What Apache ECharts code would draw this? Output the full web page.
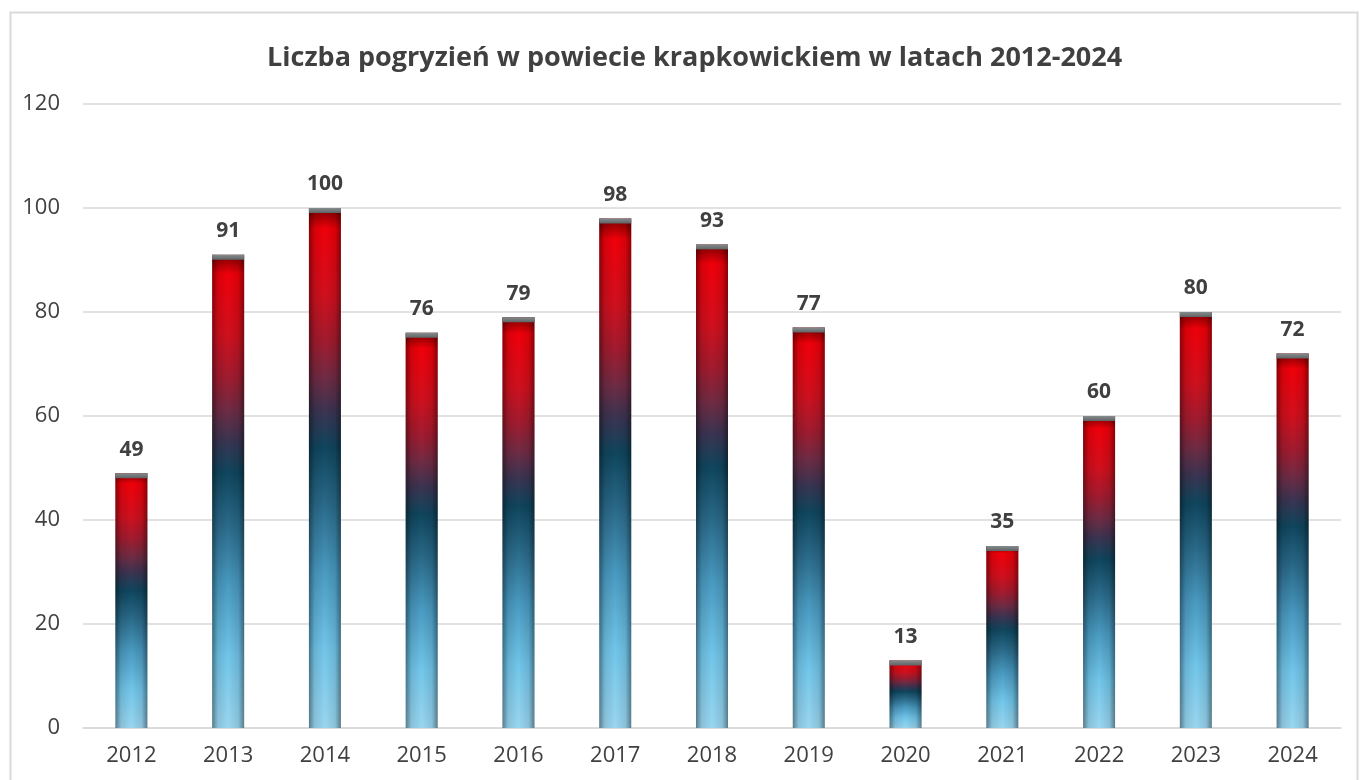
<!DOCTYPE html>
<html><head><meta charset="utf-8">
<script src="https://cdn.jsdelivr.net/npm/echarts@6/dist/echarts.min.js"></script>
<style>html,body{margin:0;padding:0;background:#fff}#c{width:1362px;height:780px}</style>
</head><body><div id="c"></div>
<script>
const categories = ['2012','2013','2014','2015','2016','2017','2018','2019','2020','2021','2022','2023','2024'];
const values = [49,91,100,76,79,98,93,77,13,35,60,80,72];
const yTicks = [0,20,40,60,80,100,120];
const titleText = 'Liczba pogryzień w powiecie krapkowickiem w latach 2012-2024';

const chart = echarts.init(document.getElementById('c'));
const font = '"Open Sans", "Noto Sans", sans-serif';
const vGrad = new echarts.graphic.LinearGradient(0,0,0,1,[
  {offset:0, color:'#7a0000'},
  {offset:0.04, color:'#f0000a'},
  {offset:0.17, color:'#d0101e'},
  {offset:0.26, color:'#a01c30'},
  {offset:0.33, color:'#6e2c45'},
  {offset:0.39, color:'#3c3452'},
  {offset:0.46, color:'#0f465e'},
  {offset:0.57, color:'#2a6a8a'},
  {offset:0.7, color:'#4a9bc2'},
  {offset:0.85, color:'#72c6ea'},
  {offset:1, color:'#9ad6f0'}
]);
const hGrad = new echarts.graphic.LinearGradient(0,0,1,0,[
  {offset:0, color:'rgba(0,0,0,0.42)'},
  {offset:0.18, color:'rgba(0,0,0,0.1)'},
  {offset:0.5, color:'rgba(0,0,0,0)'},
  {offset:0.82, color:'rgba(0,0,0,0.1)'},
  {offset:1, color:'rgba(0,0,0,0.42)'}
]);
const capGrad = new echarts.graphic.LinearGradient(0,0,0,1,[
  {offset:0, color:'#868c8e'},
  {offset:1, color:'#5e6466'}
]);
chart.setOption({
  animation:false,
  graphic:[{type:'rect', shape:{x:10.5,y:12.5,width:1347,height:790}, style:{fill:'none', stroke:'#d9d9d9', lineWidth:2}}],
  title:{text:titleText, left:262, top:40, textStyle:{fontFamily:font, fontSize:27, fontWeight:'bold', color:'#404040'}},
  grid:{left:83, right:21, top:104, bottom:52},
  xAxis:{type:'category', data:categories,
    axisLine:{lineStyle:{color:'#d9d9d9', width:1.5}}, axisTick:{show:false},
    axisLabel:{fontFamily:font, fontSize:22, color:'#404040', margin:17}},
  yAxis:{type:'value', min:0, max:120, interval:20,
    axisLine:{show:false}, axisTick:{show:false},
    splitLine:{lineStyle:{color:'#d9d9d9', width:1.5}},
    axisLabel:{fontFamily:font, fontSize:22, color:'#404040', margin:23,
      formatter:v=>yTicks.includes(v)?String(v):''}},
  series:[
    {type:'bar', data:values, barWidth:32, itemStyle:{color:vGrad},
     label:{show:true, position:'top', distance:13, fontFamily:font, fontSize:21, fontWeight:'bold', color:'#404040'}},
    {type:'bar', data:values, barWidth:32, barGap:'-100%', itemStyle:{color:hGrad}, silent:true},
    {type:'pictorialBar', data:values, symbol:'rect', symbolSize:[32,5], symbolPosition:'end', itemStyle:{color:capGrad}, z:5}
  ]
});
</script></body></html>
